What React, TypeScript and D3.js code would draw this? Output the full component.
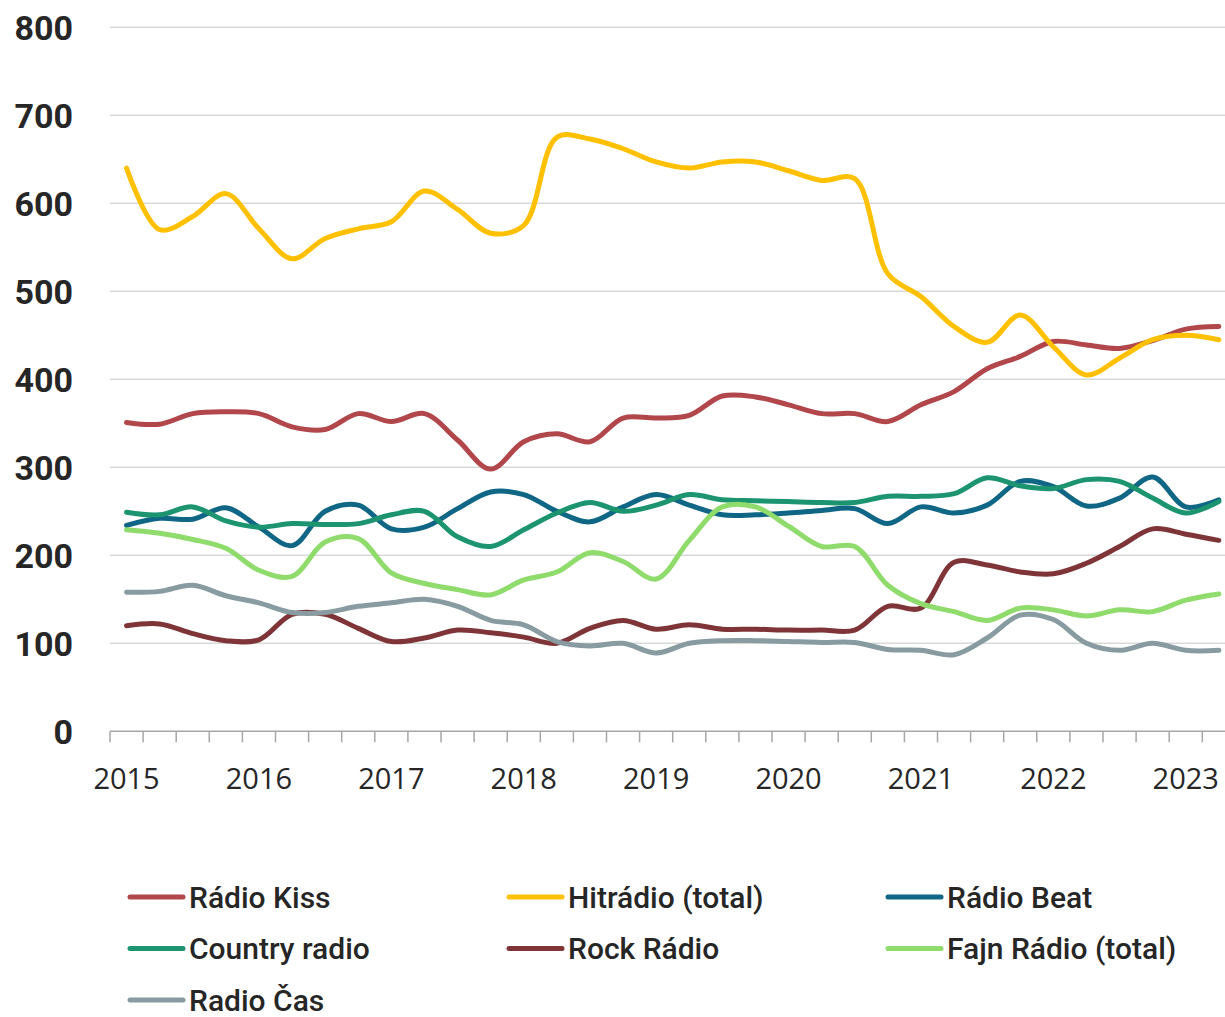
import * as d3 from 'd3';
import { useEffect, useRef } from 'react';

const years = [2015, 2016, 2017, 2018, 2019, 2020, 2021, 2022, 2023];
// quarterly categories 2015 Q1 .. 2023 Q2
const quarters: string[] = years
  .flatMap((y) => [1, 2, 3, 4].map((q) => `${y}-Q${q}`))
  .slice(0, 34);
const yTicks = [0, 100, 200, 300, 400, 500, 600, 700, 800];

const radioKiss = [351, 349, 361, 363, 361, 346, 343, 361, 352, 361, 331, 298, 329, 338, 329, 356, 356, 359, 381, 380, 371, 361, 361, 352, 371, 386, 412, 426, 443, 439, 435, 444, 457, 460];
const hitradio = [640, 570, 585, 611, 571, 537, 560, 571, 579, 614, 593, 566, 575, 675, 673, 662, 647, 640, 647, 647, 637, 626, 628, 520, 494, 460, 442, 473, 437, 405, 424, 445, 450, 445];
const radioBeat = [234, 242, 241, 254, 232, 211, 250, 257, 230, 232, 253, 272, 269, 250, 238, 255, 269, 257, 246, 246, 248, 251, 253, 236, 255, 248, 257, 284, 278, 256, 265, 289, 255, 263];
const countryRadio = [249, 246, 255, 239, 232, 236, 235, 236, 246, 250, 221, 210, 229, 248, 260, 250, 257, 269, 263, 262, 261, 260, 260, 267, 267, 270, 288, 279, 276, 286, 284, 265, 248, 261];
const rockRadio = [120, 122, 111, 103, 104, 133, 133, 117, 102, 106, 115, 112, 107, 100, 117, 126, 116, 121, 116, 116, 115, 115, 115, 142, 140, 192, 189, 181, 179, 191, 210, 230, 224, 217];
const fajnRadio = [229, 225, 218, 208, 183, 176, 215, 219, 180, 168, 161, 155, 172, 181, 203, 193, 173, 217, 255, 255, 233, 210, 210, 166, 145, 136, 126, 140, 138, 131, 138, 136, 149, 156];
const radioCas = [158, 159, 166, 154, 146, 135, 135, 142, 146, 150, 142, 126, 121, 102, 97, 100, 89, 100, 103, 103, 102, 101, 101, 93, 92, 87, 106, 132, 127, 100, 92, 100, 92, 92];

const seriesNames = ['Rádio Kiss', 'Hitrádio (total)', 'Rádio Beat', 'Country radio', 'Rock Rádio', 'Fajn Rádio (total)', 'Radio Čas'];
const seriesValues = [radioKiss, hitradio, radioBeat, countryRadio, rockRadio, fajnRadio, radioCas];
const seriesColors = ['#b1464b', '#ffc000', '#0f6685', '#1c9470', '#7f3538', '#8fdb6c', '#879ba0'];

const App = () => {
  const svgRef = useRef<SVGSVGElement>(null);

  useEffect(() => {
    const width = 1225;
    const marginLeft = 110;
    const step = 33.1;
    const y0 = 731.3;
    const y800 = 27.3;

    const svg = d3.select(svgRef.current);
    svg.selectAll('*').remove();

    const x = d3
      .scaleBand()
      .domain(quarters)
      .range([marginLeft, marginLeft + step * quarters.length])
      .padding(0);
    const y = d3.scaleLinear([0, 800], [y0, y800]);
    const cx = (q: string) => (x(q) as number) + x.bandwidth() / 2;

    // gridlines
    svg
      .append('g')
      .selectAll('line')
      .data(yTicks.filter((d) => d > 0))
      .join('line')
      .attr('x1', marginLeft)
      .attr('x2', width)
      .attr('y1', (d) => y(d))
      .attr('y2', (d) => y(d))
      .attr('stroke', '#d9d9d9')
      .attr('stroke-width', 1.5);

    // y labels
    svg
      .append('g')
      .selectAll('text')
      .data(yTicks)
      .join('text')
      .attr('x', 73)
      .attr('y', (d) => y(d))
      .attr('dy', '0.36em')
      .attr('text-anchor', 'end')
      .attr('font-family', 'Roboto, sans-serif')
      .attr('font-weight', 700)
      .attr('font-size', 34)
      .attr('fill', '#262626')
      .text((d) => d);

    // x axis, ticks between categories
    const boundaries = d3.range(quarters.length + 1).map((i) => marginLeft + i * x.step());
    const axis = svg.append('g');
    axis
      .append('line')
      .attr('x1', marginLeft)
      .attr('x2', width)
      .attr('y1', y(0))
      .attr('y2', y(0))
      .attr('stroke', '#a6a6a6')
      .attr('stroke-width', 1.5);
    axis
      .selectAll('line.tick')
      .data(boundaries)
      .join('line')
      .attr('class', 'tick')
      .attr('x1', (d) => d)
      .attr('x2', (d) => d)
      .attr('y1', y(0))
      .attr('y2', y(0) + 11)
      .attr('stroke', '#a6a6a6')
      .attr('stroke-width', 1.5);
    axis
      .selectAll('text')
      .data(quarters.filter((q) => q.endsWith('Q1')))
      .join('text')
      .attr('x', (q) => cx(q))
      .attr('y', 789)
      .attr('text-anchor', 'middle')
      .attr('font-family', '"Open Sans", sans-serif')
      .attr('font-size', 29)
      .attr('fill', '#262626')
      .text((q) => q.slice(0, 4));

    // lines
    const line = d3
      .line<number>()
      .curve(d3.curveCatmullRom.alpha(0.5))
      .x((_, i) => cx(quarters[i]))
      .y((d) => y(d));

    svg
      .append('g')
      .selectAll('path')
      .data(seriesValues)
      .join('path')
      .attr('fill', 'none')
      .attr('stroke', (_, i) => seriesColors[i])
      .attr('stroke-width', 5)
      .attr('stroke-linecap', 'round')
      .attr('stroke-linejoin', 'round')
      .attr('d', (d) => line(d));

    // legend
    const legend = svg
      .append('g')
      .selectAll('g')
      .data(seriesNames)
      .join('g')
      .attr('transform', (_, i) => `translate(${128 + (i % 3) * 379}, ${897 + Math.floor(i / 3) * 51.5})`);
    legend
      .append('line')
      .attr('x1', 2)
      .attr('x2', 55)
      .attr('stroke', (_, i) => seriesColors[i])
      .attr('stroke-width', 5)
      .attr('stroke-linecap', 'round');
    legend
      .append('text')
      .attr('x', 61)
      .attr('dy', '0.35em')
      .attr('font-family', 'Roboto, sans-serif')
      .attr('font-weight', 500)
      .attr('font-size', 30)
      .attr('fill', '#262626')
      .text((d) => d);
  }, []);

  return (
    <svg
      ref={svgRef}
      width={1225}
      height={1017}
      style={{ position: 'absolute', left: 0, top: 0, background: '#fff' }}
    />
  );
};

export default App;
